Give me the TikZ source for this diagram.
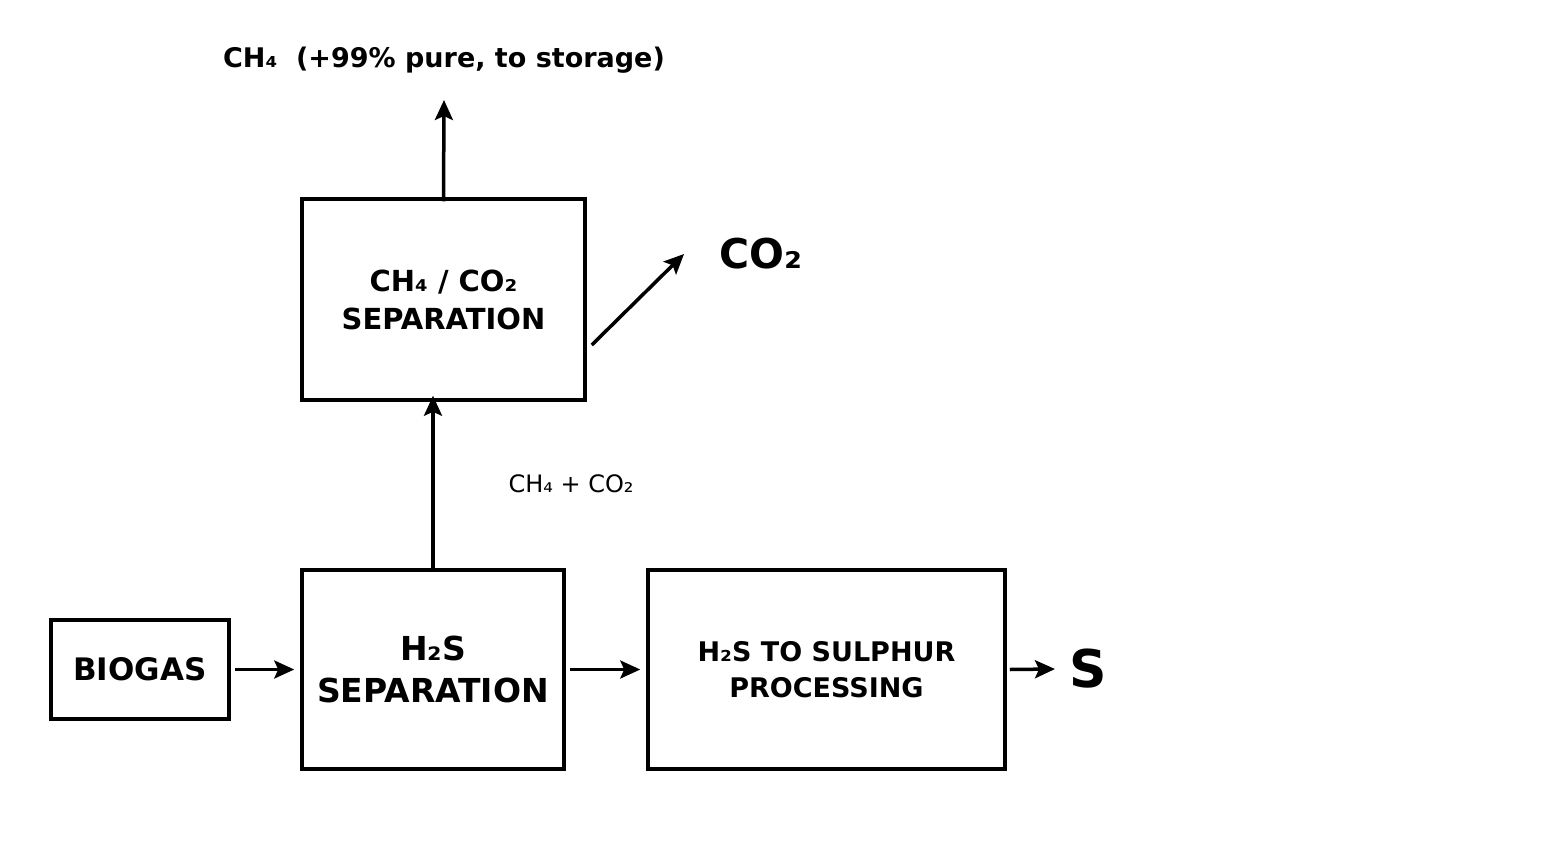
\documentclass[tikz,border=0pt]{standalone}
\usepackage{fontspec}
\setmainfont{DejaVu Sans}
\usetikzlibrary{arrows.meta}
\begin{document}
\begin{tikzpicture}[x=1pt,y=-1pt,
  box/.style={draw,line width=3.5pt,inner sep=0pt,align=center,font=\bfseries},
  arr/.style={line width=3.5pt,-{Stealth[length=20pt,width=18pt,inset=4pt]}}]
\useasboundingbox (0,0) rectangle (1548,860);
\node[box,minimum width=178,minimum height=99,font=\bfseries\fontsize{31}{36}\selectfont] (bio) at (140,669.5) {BIOGAS};
\node[box,minimum width=262,minimum height=199,font=\bfseries\fontsize{33}{42}\selectfont] (h2s) at (433,669.5) {H₂S\\SEPARATION};
\node[box,minimum width=283,minimum height=201,font=\bfseries\fontsize{29}{38}\selectfont] (sep) at (443.5,299.5) {CH₄ / CO₂\\SEPARATION};
\node[box,minimum width=357,minimum height=199,font=\bfseries\fontsize{27}{36}\selectfont] (sul) at (826.5,669.5) {H₂S TO SULPHUR\\PROCESSING};
\node[font=\bfseries\fontsize{52}{60}\selectfont,anchor=west] (S) at (1066,669) {S};
\node[font=\bfseries\fontsize{41}{48}\selectfont,anchor=west] (co2) at (716,254) {CO₂};
\node[font=\bfseries\fontsize{27}{32}\selectfont] (top) at (444,60) {CH₄\ \ (+99\% pure, to storage)};
\node[font=\fontsize{24}{30}\selectfont,anchor=west] (mix) at (505,484) {CH₄ + CO₂};
\coordinate (topend) at (444,100);
\coordinate (co2end) at (684,254);
\draw[arr] (bio.east) ++(4,0) -- ([xshift=-6]h2s.west);
\draw[arr] ([xshift=4]h2s.east) -- ([xshift=-6]sul.west);
\draw[arr] ([xshift=3]sul.east) -- ([xshift=-11]S.west);
\draw[arr] ([yshift=-4]h2s.north) -- ([xshift=-10.5,yshift=6]sep.south);
\draw[arr] ([yshift=-4]sep.north) -- (topend);
\draw[arr] ([xshift=5,yshift=-45.5]sep.east) -- (co2end);
\end{tikzpicture}
\end{document}
